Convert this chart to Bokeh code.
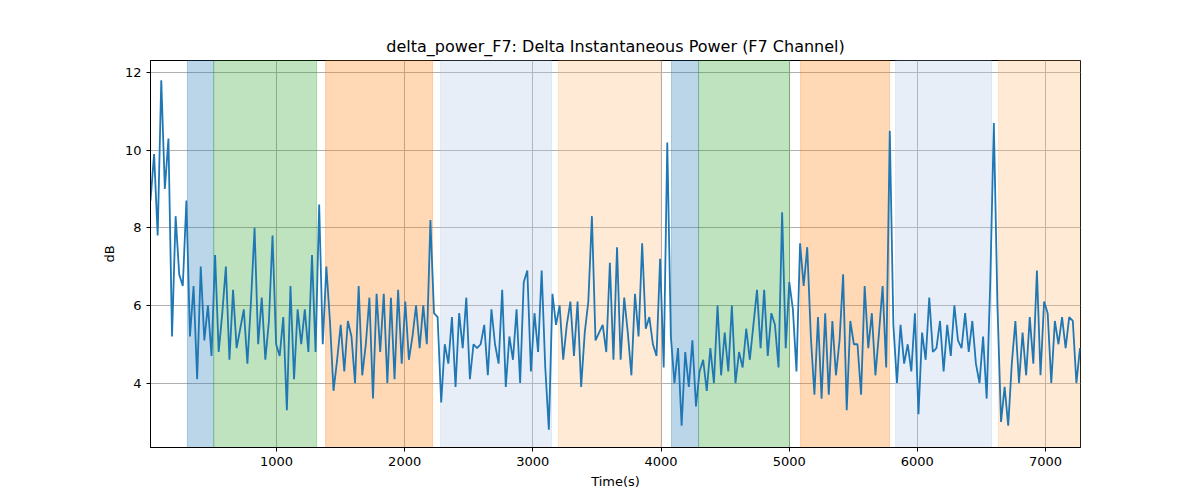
from bokeh.plotting import figure
from bokeh.models import BoxAnnotation, Range1d, FixedTicker
from bokeh.embed import file_html
from bokeh.resources import INLINE

# sampled signal
t_start = 17
t_step = 28
power = [
    8.7, 9.9, 7.8, 11.8, 9.0, 10.3, 5.2, 8.3, 6.8, 6.5, 8.7, 5.2, 6.5, 4.1, 7.0, 5.1, 6.0, 4.7, 7.3, 4.8,
    5.8, 7.0, 4.6, 6.4, 4.9, 5.4, 5.9, 4.5, 6.1, 8.0, 5.0, 6.2, 4.6, 5.6, 7.8, 5.0, 4.7, 5.7, 3.3, 6.5,
    4.1, 5.9, 5.0, 5.9, 4.8, 7.3, 4.8, 8.6, 5.0, 7.0, 5.6, 3.8, 4.6, 5.5, 4.3, 5.6, 5.2, 4.0, 6.5, 4.2,
    5.0, 6.2, 3.6, 6.3, 4.8, 6.3, 4.0, 6.2, 4.1, 6.4, 4.5, 6.1, 4.6, 5.2, 6.0, 4.9, 6.0, 5.0, 8.2, 5.8,
    5.7, 3.5, 5.0, 4.5, 5.7, 3.9, 5.8, 4.9, 6.2, 4.1, 5.0, 4.9, 5.0, 5.5, 4.2, 5.9, 5.0, 4.5, 6.4, 3.9,
    5.2, 4.6, 5.9, 4.0, 6.6, 6.9, 4.3, 5.8, 4.8, 6.9, 4.4, 2.8, 6.3, 5.5, 6.0, 4.6, 5.5, 6.1, 4.7, 6.1,
    3.9, 5.3, 6.1, 8.3, 5.1, 5.3, 5.5, 4.8, 7.1, 4.6, 7.5, 4.6, 6.2, 5.3, 4.2, 6.3, 5.2, 7.6, 5.4, 5.7,
    5.0, 4.7, 7.2, 4.4, 10.2, 5.2, 4.0, 4.9, 2.9, 4.8, 3.9, 5.1, 3.4, 4.3, 4.6, 3.8, 4.9, 4.0, 6.0, 4.2,
    5.3, 4.3, 6.0, 4.0, 4.8, 4.4, 5.4, 4.6, 5.5, 6.4, 4.9, 6.4, 4.7, 5.8, 5.5, 4.4, 8.4, 4.9, 6.6, 5.9,
    4.3, 7.6, 6.5, 7.5, 5.2, 3.7, 5.7, 3.6, 5.8, 3.7, 5.6, 4.2, 5.1, 6.8, 3.3, 5.6, 5.0, 5.0, 3.7, 6.5,
    4.9, 5.8, 4.2, 5.3, 6.5, 4.4, 10.5, 5.5, 4.0, 5.5, 4.5, 5.0, 4.3, 5.8, 3.2, 5.3, 4.6, 6.2, 4.8, 4.9,
    5.6, 4.3, 5.5, 4.7, 6.0, 5.1, 4.9, 5.8, 4.8, 5.6, 4.5, 4.0, 5.2, 3.6, 6.6, 10.7, 6.0, 3.0, 3.9, 2.9,
    4.5, 5.6, 4.0, 5.3, 4.2, 5.7, 4.5, 6.9, 4.2, 6.1, 5.8, 4.0, 5.6, 5.0, 5.7, 4.9, 5.7, 5.6, 4.0, 4.9,
]
times = [t_start + i * t_step for i in range(len(power))]

# shaded stages
band_left = [305, 510, 1383, 2280, 3200, 4082, 4293, 5089, 5830, 6633]
band_right = [510, 1313, 2218, 3146, 3996, 4293, 5003, 5783, 6579, 7300]
band_color = ["#1f77b4", "#2ca02c", "#ff7f0e", "#aec7e8", "#ffbb78",
              "#1f77b4", "#2ca02c", "#ff7f0e", "#aec7e8", "#ffbb78"]

p = figure(width=1184, height=491, output_backend="svg", toolbar_location=None,
           title="delta_power_F7: Delta Instantaneous Power (F7 Channel)",
           x_range=Range1d(17, 7273), y_range=Range1d(2.34, 12.31),
           min_border_left=150, min_border_right=104, min_border_top=60, min_border_bottom=32)

for l, r, c in zip(band_left, band_right, band_color):
    p.add_layout(BoxAnnotation(left=l, right=r, fill_color=c, fill_alpha=0.3,
                               line_color=c, line_alpha=0.3, level="underlay"))

p.line(times, power, line_color="#1f77b4", line_width=1.8)

p.title.align = "center"
p.title.text_font = "DejaVu Sans"
p.title.text_font_style = "normal"
p.title.text_font_size = "16px"
p.title.text_color = "black"
p.xaxis.axis_label = "Time(s)"
p.yaxis.axis_label = "dB"
p.xaxis.ticker = FixedTicker(ticks=[1000, 2000, 3000, 4000, 5000, 6000, 7000])
p.yaxis.ticker = FixedTicker(ticks=[4, 6, 8, 10, 12])
for ax in (p.xaxis, p.yaxis):
    ax.axis_label_text_font = "DejaVu Sans"
    ax.axis_label_text_font_style = "normal"
    ax.axis_label_text_font_size = "13px"
    ax.axis_label_text_color = "black"
    ax.major_label_text_font = "DejaVu Sans"
    ax.major_label_text_font_size = "13px"
    ax.major_label_text_color = "black"
    ax.minor_tick_line_color = None
    ax.major_tick_out = 4
    ax.major_tick_in = 0
    ax.axis_line_color = "black"
    ax.major_tick_line_color = "black"
p.grid.grid_line_color = "#b0b0b0"
p.outline_line_color = "black"
p.background_fill_color = "white"

open("out.html", "w").write(file_html(p, INLINE))
